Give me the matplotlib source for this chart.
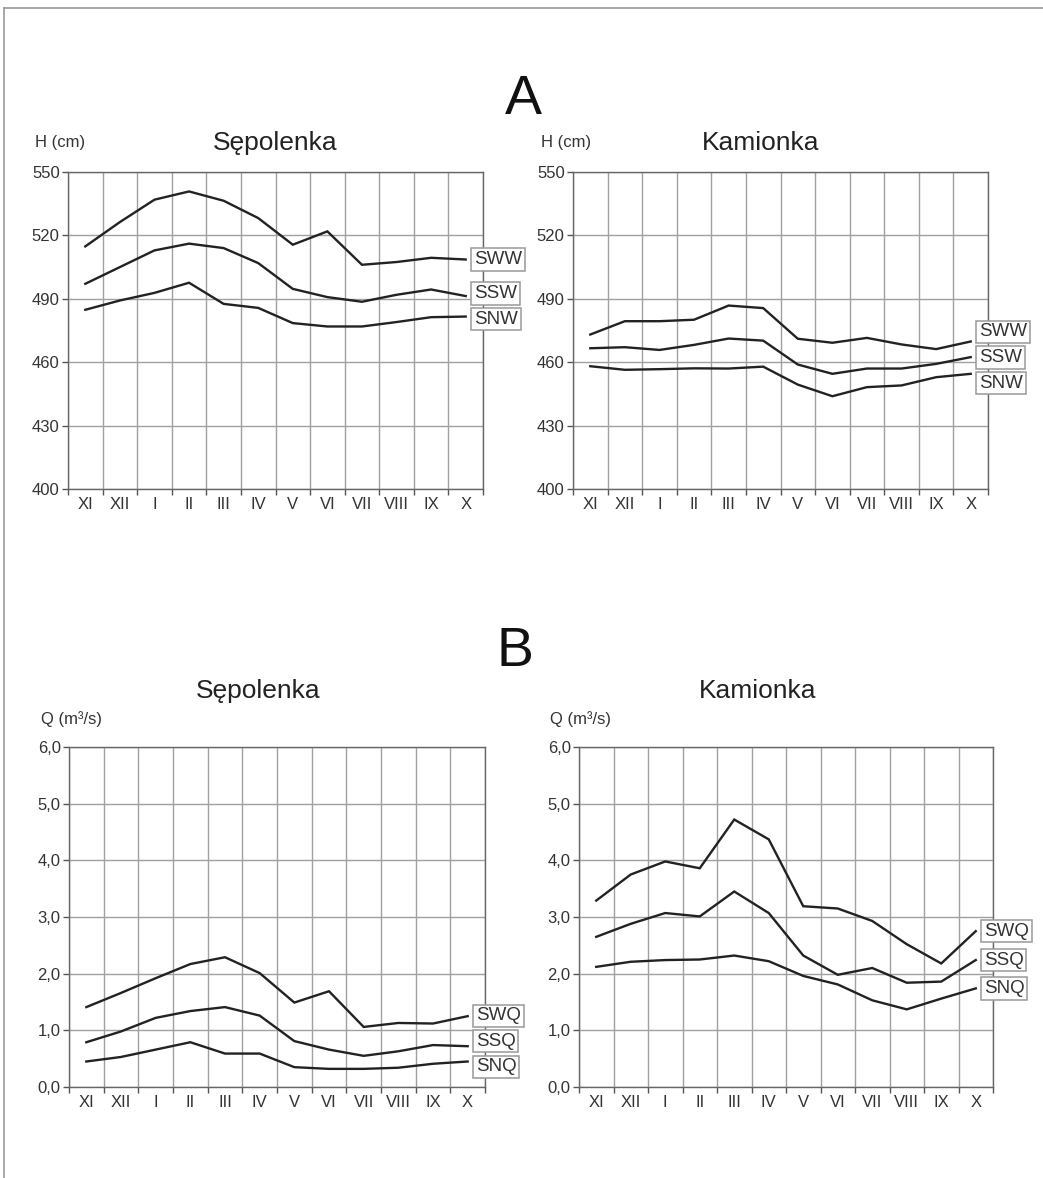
"""Water stages (A) and discharges (B) - Sępolenka and Kamionka, hydrological year."""

import matplotlib

matplotlib.use("Agg")
import matplotlib.pyplot as plt
import numpy as np
from matplotlib.lines import Line2D

plt.rcParams["font.family"] = ["Liberation Sans", "DejaVu Sans"]

MONTHS = ["XI", "XII", "I", "II", "III", "IV", "V", "VI", "VII", "VIII", "IX", "X"]

# A - water stages H (cm)
H_SEP_SWW = [514.8, 526.3, 536.9, 540.8, 536.4, 528.2, 515.6, 521.9, 506.1, 507.4, 509.4, 508.6]
H_SEP_SSW = [497.1, 505.0, 512.9, 516.1, 514.0, 506.9, 494.7, 490.8, 488.6, 491.9, 494.4, 491.3]
H_SEP_SNW = [484.8, 489.2, 492.8, 497.6, 487.6, 485.7, 478.5, 476.9, 476.9, 479.0, 481.3, 481.6]

H_KAM_SWW = [473.1, 479.4, 479.4, 480.1, 486.8, 485.6, 471.1, 469.2, 471.5, 468.4, 466.2, 469.8]
H_KAM_SSW = [466.6, 467.1, 465.8, 468.2, 471.2, 470.2, 458.9, 454.5, 457.0, 457.0, 459.2, 462.4]
H_KAM_SNW = [458.1, 456.4, 456.7, 457.1, 457.0, 457.9, 449.4, 443.9, 448.2, 449.0, 452.9, 454.5]

H_LABELS = ["SWW", "SSW", "SNW"]
H_TICKS = [400, 430, 460, 490, 520, 550]

# B - discharges Q (m3/s)
Q_SEP_SWQ = [1.41, 1.66, 1.92, 2.17, 2.29, 2.01, 1.49, 1.69, 1.06, 1.13, 1.12, 1.25]
Q_SEP_SSQ = [0.79, 0.98, 1.22, 1.34, 1.41, 1.26, 0.81, 0.66, 0.55, 0.63, 0.74, 0.72]
Q_SEP_SNQ = [0.45, 0.53, 0.66, 0.79, 0.59, 0.59, 0.35, 0.32, 0.32, 0.34, 0.41, 0.45]

Q_KAM_SWQ = [3.29, 3.75, 3.98, 3.86, 4.72, 4.37, 3.19, 3.15, 2.93, 2.52, 2.18, 2.75]
Q_KAM_SSQ = [2.65, 2.88, 3.07, 3.01, 3.45, 3.07, 2.32, 1.98, 2.10, 1.84, 1.86, 2.24]
Q_KAM_SNQ = [2.12, 2.21, 2.24, 2.25, 2.32, 2.22, 1.96, 1.81, 1.53, 1.37, 1.56, 1.74]

Q_LABELS = ["SWQ", "SSQ", "SNQ"]
Q_TICKS = [0, 1, 2, 3, 4, 5, 6]
Q_TICKLABELS = ["0,0", "1,0", "2,0", "3,0", "4,0", "5,0", "6,0"]

LINE_COLOR = "#222222"
GRID_COLOR = "#a0a0a0"
TEXT_COLOR = "#333333"


def _spread(values, gap):
    """Push end labels apart so their boxes do not overlap."""
    pos = np.array(values, dtype=float)
    order = np.argsort(-pos)
    for _ in range(200):
        moved = False
        for a, b in zip(order[:-1], order[1:]):
            diff = pos[a] - pos[b]
            if diff < gap - 1e-9:
                shift = (gap - diff) / 2
                pos[a] += shift
                pos[b] -= shift
                moved = True
        if not moved:
            break
    return pos


def draw_panel(ax, series, labels, ticks, ticklabels, gap):
    x = np.arange(len(MONTHS)) + 0.5
    for vals in series:
        ax.plot(x, vals, color=LINE_COLOR, linewidth=1.7, solid_joinstyle="miter", zorder=3)

    ax.set_xlim(0, len(MONTHS))
    ax.set_ylim(ticks[0], ticks[-1])

    # month boundaries carry the ticks/grid, month names sit in the middle
    ax.set_xticks(np.arange(len(MONTHS) + 1))
    ax.set_xticklabels([])
    ax.set_xticks(x, minor=True)
    ax.set_xticklabels(MONTHS, minor=True)
    ax.tick_params(axis="x", which="major", length=4, width=1, color="#555555")
    ax.tick_params(axis="x", which="minor", length=0, pad=6, labelsize=12, labelcolor=TEXT_COLOR)

    ax.set_yticks(ticks)
    ax.set_yticklabels(ticklabels)
    ax.tick_params(axis="y", length=4, width=1, color="#555555", pad=2,
                   labelsize=12, labelcolor=TEXT_COLOR)

    ax.grid(True, which="major", color=GRID_COLOR, linewidth=1.0)
    ax.set_axisbelow(True)
    for spine in ax.spines.values():
        spine.set_color("#666666")
        spine.set_linewidth(1.0)

    ends = [vals[-1] for vals in series]
    label_y = _spread(ends, gap)
    for lab, yv in zip(labels, label_y):
        ax.annotate(
            lab, xy=(x[-1], yv), xytext=(6, 0), textcoords="offset points",
            ha="left", va="center", fontsize=13.5, color=TEXT_COLOR,
            bbox=dict(boxstyle="square,pad=0.14", facecolor="white",
                      edgecolor="#999999", linewidth=1.1),
            annotation_clip=False, zorder=5,
        )


fig = plt.figure(figsize=(10.43, 11.78), dpi=100)
W, H = 1043, 1178


def px_axes(left, top, right, bottom):
    return fig.add_axes([left / W, 1 - bottom / H, (right - left) / W, (bottom - top) / H])


ax_a1 = px_axes(68, 172, 483, 489)
ax_a2 = px_axes(573, 172, 988, 489)
ax_b1 = px_axes(69, 747, 485, 1087)
ax_b2 = px_axes(579, 747, 993, 1087)

draw_panel(ax_a1, [H_SEP_SWW, H_SEP_SSW, H_SEP_SNW], H_LABELS, H_TICKS,
           [str(t) for t in H_TICKS], gap=12.2)
draw_panel(ax_a2, [H_KAM_SWW, H_KAM_SSW, H_KAM_SNW], H_LABELS, H_TICKS,
           [str(t) for t in H_TICKS], gap=12.2)
draw_panel(ax_b1, [Q_SEP_SWQ, Q_SEP_SSQ, Q_SEP_SNQ], Q_LABELS, Q_TICKS,
           Q_TICKLABELS, gap=0.45)
draw_panel(ax_b2, [Q_KAM_SWQ, Q_KAM_SSQ, Q_KAM_SNQ], Q_LABELS, Q_TICKS,
           Q_TICKLABELS, gap=0.45)


def fig_text(xp, yp, s, **kw):
    fig.text(xp / W, 1 - yp / H, s, **kw)


# section letters and station titles
fig_text(523, 114, "A", fontsize=40, ha="center", va="baseline", color="#111111")
fig_text(515, 666, "B", fontsize=40, ha="center", va="baseline", color="#111111")
fig_text(275, 150, "Sępolenka", fontsize=19, ha="center", va="baseline", color="#222222")
fig_text(761, 150, "Kamionka", fontsize=19, ha="center", va="baseline", color="#222222")
fig_text(258, 698, "Sępolenka", fontsize=19, ha="center", va="baseline", color="#222222")
fig_text(758, 698, "Kamionka", fontsize=19, ha="center", va="baseline", color="#222222")

# axis unit labels
fig_text(35, 143, "H (cm)", fontsize=12, ha="left", va="center", color=TEXT_COLOR)
fig_text(541, 143, "H (cm)", fontsize=12, ha="left", va="center", color=TEXT_COLOR)
fig_text(41, 719, "Q (m³/s)", fontsize=12, ha="left", va="center", color=TEXT_COLOR)
fig_text(550, 719, "Q (m³/s)", fontsize=12, ha="left", va="center", color=TEXT_COLOR)

# frame lines of the scanned page
fig.add_artist(Line2D([4 / W, 1], [1 - 8 / H, 1 - 8 / H], color="#999999", linewidth=1.2))
fig.add_artist(Line2D([4 / W, 4 / W], [0, 1 - 8 / H], color="#999999", linewidth=1.2))

fig.savefig("out.png", dpi=100, facecolor="white")
